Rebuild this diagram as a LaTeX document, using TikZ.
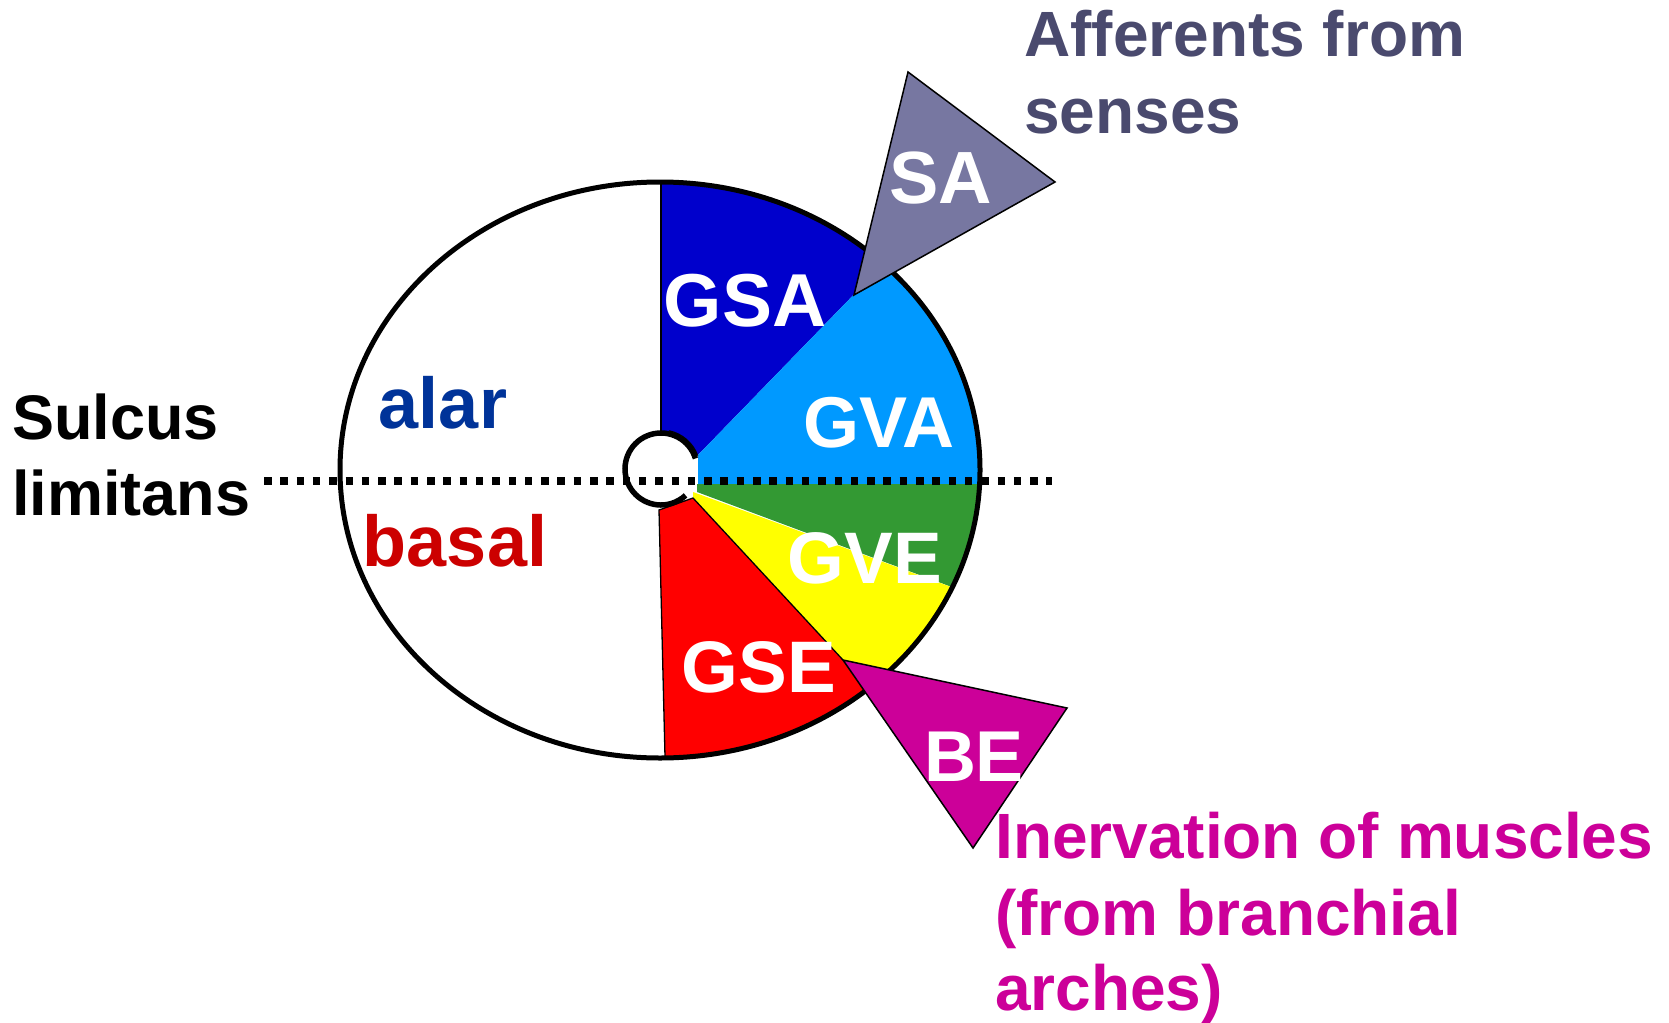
\documentclass[tikz,border=0pt]{standalone}
\usepackage{fontspec}
\setmainfont{Liberation Sans}
\definecolor{gsa}{RGB}{0,0,204}
\definecolor{gva}{RGB}{0,153,255}
\definecolor{gve}{RGB}{51,153,51}
\definecolor{yel}{RGB}{255,255,0}
\definecolor{gse}{RGB}{255,0,0}
\definecolor{befill}{RGB}{204,0,153}
\definecolor{safill}{RGB}{119,119,161}
\definecolor{afftext}{RGB}{74,74,110}
\definecolor{alarc}{RGB}{0,51,153}
\definecolor{basalc}{RGB}{204,0,0}
\begin{document}
\begin{tikzpicture}[x=1pt,y=-1pt,
  lbl/.style={inner sep=0pt, font=\bfseries\fontsize{64}{76}\selectfont, anchor=base west},
  seg/.style={inner sep=0pt, text=white, font=\bfseries\fontsize{74}{80}\selectfont, anchor=base},
  side/.style={inner sep=0pt, font=\bfseries\fontsize{72}{80}\selectfont, anchor=base},
  tri/.style={draw=black, line width=1.5pt},
  thinline/.style={draw=black, line width=1.3pt}]
\useasboundingbox (0,0) rectangle (1669,1022);
\coordinate (E) at (660,470);
\fill[white] (E) ellipse[x radius=320, y radius=288];
\begin{scope}
  \clip (E) ellipse[x radius=320, y radius=288];
  \fill[gsa] (661,100) -- (661,460) -- (698,455) -- (1000,144) -- (1000,100) -- cycle;
  \fill[gva] (698,455) -- (698,484) -- (1000,484) -- (1000,144) -- cycle;
  \fill[gve] (697,484) -- (1000,484) -- (1000,605) -- (697,492) -- cycle;
  \fill[yel] (693,492) -- (1000,605) -- (1000,850) -- (940,765) -- (693,498) -- cycle;
  \fill[gse] (659,510) -- (693,498) -- (940,765) -- (940,830) -- (667,830) -- cycle;
\end{scope}
\draw[thinline] (661,183) -- (661,440);
\draw[thinline] (665,757) -- (659,510) -- (693,498) -- (843,660);
% small central canal
\coordinate (C) at (661,469);
\fill[white] (C) -- ++(-20:39) arc[start angle=-20, end angle=-78, radius=39] -- cycle;
\draw[line width=1.3pt] (C) ++(-20:39) arc[start angle=-20, end angle=-78, radius=39];
\fill[white] (C) circle[radius=36];
\draw[line width=5.5pt] (C) ++(-17:36) arc[start angle=-17, end angle=-313, radius=36];
% outline
\draw[line width=5pt] (E) ellipse[x radius=320, y radius=288];
% sulcus limitans
\coordinate (slL) at (264,481);
\coordinate (slR) at (1052,481);
\draw[line width=7.5pt, dash pattern=on 7.5pt off 8.8pt] (slL) -- (slR);
% triangles
\draw[tri, fill=safill] (908,72) -- (1055,182) -- (854,295) -- cycle;
\draw[tri, fill=befill] (843,660) -- (1067,708) -- (973,848) -- cycle;
% labels
\node[seg, font=\bfseries\fontsize{75}{80}\selectfont] (gsaT) at (745,326) {GSA};
\node[seg, font=\bfseries\fontsize{72}{80}\selectfont] (gvaT) at (879,447) {GVA};
\node[seg, font=\bfseries\fontsize{73}{80}\selectfont] (gveT) at (865,583) {GVE};
\node[seg, font=\bfseries\fontsize{73}{80}\selectfont] (gseT) at (759,692) {GSE};
\node[seg] (saT) at (941,203) {SA};
\node[seg, font=\bfseries\fontsize{72}{80}\selectfont] (beT) at (974,781) {BE};
\node[side, text=alarc] (alarT) at (443,428) {alar};
\node[side, text=basalc] (basalT) at (455,566) {basal};
\node[lbl, text=black, font=\bfseries\fontsize{63}{76}\selectfont] (sul1) at (12,439) {Sulcus};
\node[lbl, text=black, font=\bfseries\fontsize{63}{76}\selectfont] (sul2) at (12,515) {limitans};
\node[lbl, text=afftext] (aff1) at (1024,57) {Afferents from};
\node[lbl, text=afftext] (aff2) at (1024,133) {senses};
\node[lbl, text=befill] (inn1) at (995,858) {Inervation of muscles};
\node[lbl, text=befill] (inn2) at (995,935) {(from branchial};
\node[lbl, text=befill] (inn3) at (995,1010) {arches)};
\end{tikzpicture}
\end{document}
